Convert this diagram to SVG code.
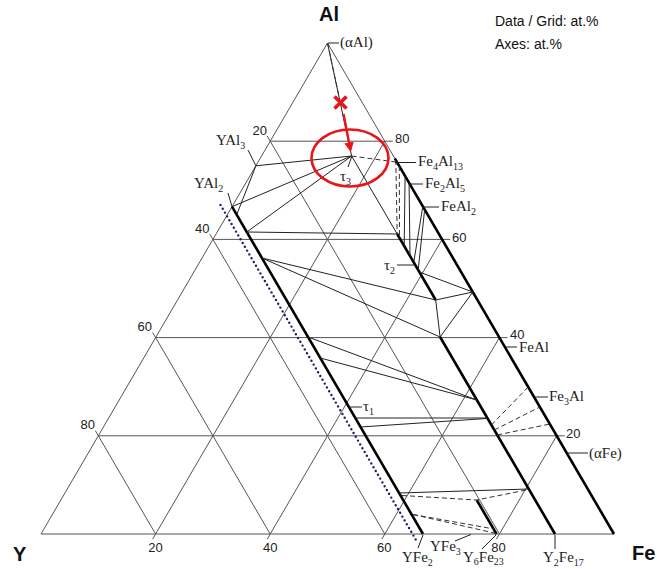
<svg xmlns="http://www.w3.org/2000/svg" width="657" height="569" viewBox="0 0 657 569">
<defs>
<style>
.grid{stroke:#555;stroke-width:1;fill:none}
.tie{stroke:#222;stroke-width:1;fill:none}
.thick{stroke:#000;stroke-width:2.6;fill:none}
.dash{stroke:#333;stroke-width:1;stroke-dasharray:5 3;fill:none}
.dot{stroke:#1c1c6b;stroke-width:2.4;stroke-dasharray:0 4.4;stroke-linecap:round;fill:none}
.num{font-family:"Liberation Sans",Arial,sans-serif;font-size:13px;fill:#222}
.ph{font-family:"Liberation Serif","Times New Roman",serif;font-size:15px;fill:#222}
.ax{font-family:"Liberation Sans",Arial,sans-serif;font-size:20px;font-weight:bold;fill:#111}
.info{font-family:"Liberation Sans",Arial,sans-serif;font-size:14px;fill:#111}
.red{stroke:#e8161b;fill:none}
</style>
<marker id="ah" viewBox="0 0 10 10" refX="8" refY="5" markerWidth="4" markerHeight="4" orient="auto"><path d="M0,0 L10,5 L0,10 z" fill="#e8161b"/></marker>
</defs>
<rect width="657" height="569" fill="#fff"/>

<g id="grid">
<path class="grid" d="M41,534 L614,534 M41,534 L327.5,43 L394.8,158.4"/>
<path class="grid" d="M98.3,435.8 L564.7,435.8 M155.6,337.6 L507.4,337.6 M212.9,239.4 L450.1,239.4 M270.2,141.2 L392.8,141.2"/>
<path class="grid" d="M152.6,539.2 L384.8,141.2 M267.2,539.2 L442.1,239.4 M381.8,539.2 L499.4,337.6 M496.4,539.2 L556.7,435.8"/>
<path class="grid" d="M499.4,534 L267.2,136 M384.8,534 L209.9,234.2 M270.2,534 L152.6,332.4 M155.6,534 L95.3,430.6"/>
</g>

<g id="axis-labels">
<text class="ax" x="329" y="21" text-anchor="middle">Al</text>
<text class="ax" x="13" y="561">Y</text>
<text class="ax" x="632" y="560">Fe</text>
<text class="info" x="495" y="26">Data / Grid: at.%</text>
<text class="info" x="495" y="49">Axes: at.%</text>
<text class="num" x="155.6" y="552" text-anchor="middle">20</text>
<text class="num" x="270.2" y="552" text-anchor="middle">40</text>
<text class="num" x="384.3" y="552" text-anchor="middle">60</text>
<text class="num" x="498.4" y="552" text-anchor="middle">80</text>
<text class="num" x="395" y="143">80</text>
<text class="num" x="452" y="242">60</text>
<text class="num" x="510" y="339">40</text>
<text class="num" x="566" y="437.5">20</text>
<text class="num" x="267" y="135" text-anchor="end">20</text>
<text class="num" x="209.5" y="233" text-anchor="end">40</text>
<text class="num" x="152" y="331" text-anchor="end">60</text>
<text class="num" x="95" y="429" text-anchor="end">80</text>
</g>

<g id="connectors">
<path class="thick" d="M394.8,158.4 L614,534"/>
<path class="thick" d="M232,206.7 L423,534"/>
<path class="thick" d="M397.2,234 L435.7,300"/>
<path class="thick" d="M440.1,337 L555,534"/>
<path class="thick" d="M476.7,500 L496.5,534"/>
<path d="M479.7,500 L499.5,534" stroke="#888" stroke-width="1" fill="none"/>
<path class="dot" d="M220.5,205 L416.6,541"/>
<path class="tie" d="M327.5,43 L351.6,156"/>
<path class="dash" d="M327.5,43 L340,101"/>
<path class="tie" d="M255.9,165.8 L351.6,156 M232,206.7 L351.6,156 M246.8,232 L351.6,156 M246.8,232 L397.2,234 M351.6,156 L397.2,234"/>
<path class="tie" d="M255.9,165.8 L237,214"/>
<path class="dash" d="M351.6,156 L395.5,162"/>
<path class="dash" d="M395.8,160 L397.2,234 M399.3,166 L399.5,238"/>
<path class="tie" d="M405.1,176 L404.2,246 M409.1,184 L410,256 M422.7,207 L413.8,262 M424.6,210 L418.2,270"/>
<path class="tie" d="M262,258 L435.7,300 M262,258 L440.1,337 M435.7,300 L440.1,337 M435.7,300 L472.8,292 M440.1,337 L472.8,292 M419.3,272 L472.8,292"/>
<path class="tie" d="M308.1,337 L476.8,400 M320.3,358 L476.8,400"/>
<path class="tie" d="M355.3,418 L486.5,418 M360.6,427 L486.5,418.5"/>
<path class="dash" d="M491.4,425 L528.2,387 M494.3,430 L539.9,407 M497.2,435 L549.8,424"/>
<path class="tie" d="M399.1,493 L528.8,489"/>
<path class="dash" d="M402,495.5 L476.7,500 L528.8,489.5"/>
<path class="dash" d="M413,514.5 L496.5,533.5 M413,514.5 L494,529"/>
</g>

<g id="label-aAl"><path class="tie" d="M328,43 L339,43"/><text class="ph" x="340" y="47">(αAl)</text></g>
<g id="label-YAl3"><path class="tie" d="M248,150 L255.9,165.8"/><text class="ph" x="216" y="145">YAl<tspan font-size="10" dy="4">3</tspan></text></g>
<g id="label-YAl2"><path class="tie" d="M228,193 L232,206.7"/><text class="ph" x="194" y="188">YAl<tspan font-size="10" dy="4">2</tspan></text></g>
<g id="label-Fe4Al13"><path class="tie" d="M395,162.5 L416,162.5"/><text class="ph" x="418" y="166">Fe<tspan font-size="10" dy="4">4</tspan><tspan dy="-4">Al</tspan><tspan font-size="10" dy="4">13</tspan></text></g>
<g id="label-Fe2Al5"><path class="tie" d="M409.5,184 L423,184"/><text class="ph" x="425" y="188">Fe<tspan font-size="10" dy="4">2</tspan><tspan dy="-4">Al</tspan><tspan font-size="10" dy="4">5</tspan></text></g>
<g id="label-FeAl2"><path class="tie" d="M423,207 L439,207"/><text class="ph" x="441" y="211">FeAl<tspan font-size="10" dy="4">2</tspan></text></g>
<g id="label-t3"><path class="tie" d="M351.6,157 L348,167"/><text class="ph" x="340" y="181">τ<tspan font-size="10" dy="4">3</tspan></text></g>
<g id="label-t2"><path class="tie" d="M397,265 L415,265"/><text class="ph" x="384" y="270">τ<tspan font-size="10" dy="4">2</tspan></text></g>
<g id="label-t1"><path class="tie" d="M349,407 L362,407"/><text class="ph" x="363" y="411">τ<tspan font-size="10" dy="4">1</tspan></text></g>
<g id="label-FeAl"><path class="tie" d="M506,347 L517,347"/><text class="ph" x="519" y="352">FeAl</text></g>
<g id="label-Fe3Al"><path class="tie" d="M534,397 L548,397"/><text class="ph" x="549" y="401">Fe<tspan font-size="10" dy="4">3</tspan><tspan dy="-4">Al</tspan></text></g>
<g id="label-aFe"><path class="tie" d="M567,453 L588,453"/><text class="ph" x="589" y="458">(αFe)</text></g>
<g id="label-YFe2"><path class="tie" d="M418,548 L423,535"/><text class="ph" x="402" y="562">YFe<tspan font-size="10" dy="4">2</tspan></text></g>
<g id="label-YFe3"><path class="tie" d="M455,541 L471,534.5"/><text class="ph" x="430" y="551">YFe<tspan font-size="10" dy="4">3</tspan></text></g>
<g id="label-Y6Fe23"><path class="tie" d="M482,549 L496,535"/><text class="ph" x="463" y="562">Y<tspan font-size="10" dy="3">6</tspan><tspan dy="-3">Fe</tspan><tspan font-size="10" dy="3">23</tspan></text></g>
<g id="label-Y2Fe17"><path class="tie" d="M555,549 L555,535"/><text class="ph" x="543" y="562">Y<tspan font-size="10" dy="4">2</tspan><tspan dy="-4">Fe</tspan><tspan font-size="10" dy="4">17</tspan></text></g>

<g id="annotation">
<ellipse class="red" cx="350" cy="158" rx="38.5" ry="28.5" stroke-width="2.6"/>
<path class="red" d="M334.5,96.5 L346.5,108.5 M346.5,96.5 L334.5,108.5" stroke-width="3.6"/>
<path class="red" d="M343.5,114 L350.5,150" stroke-width="2.4" marker-end="url(#ah)"/>
</g>
</svg>
